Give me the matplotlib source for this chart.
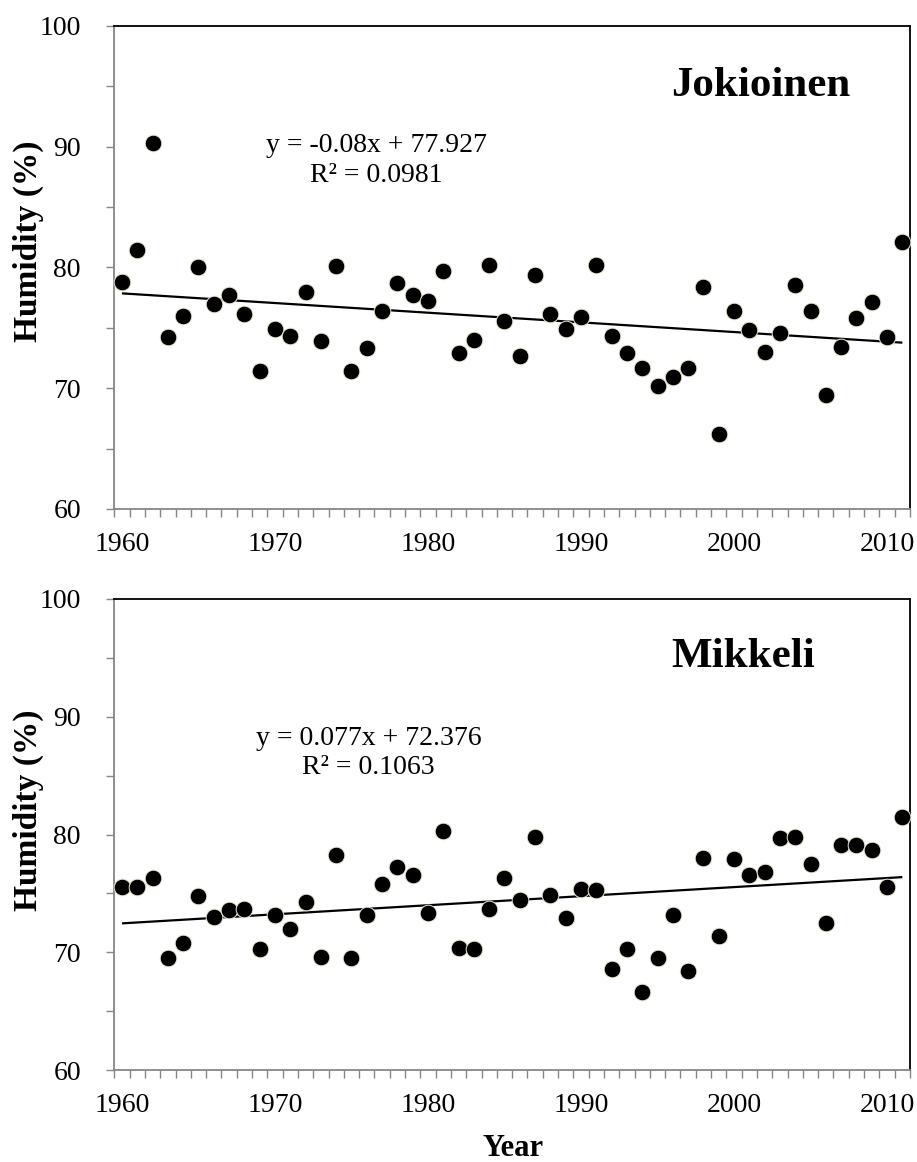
import numpy as np
import matplotlib
matplotlib.use('Agg')
import matplotlib.pyplot as plt
from matplotlib.ticker import MultipleLocator, FixedLocator

# Annual mean relative humidity, 1960-2011
YEARS = list(range(1960, 2012))

JOKIOINEN = [78.8, 81.4, 90.3, 74.2, 76.0, 80.0, 77.0, 77.7, 76.1, 71.4,
             74.9, 74.3, 78.0, 73.9, 80.1, 71.4, 73.3, 76.4, 78.7, 77.7,
             77.2, 79.7, 72.9, 74.0, 80.2, 75.6, 72.7, 79.4, 76.1, 74.9,
             75.9, 80.2, 74.3, 72.9, 71.7, 70.2, 70.9, 71.7, 78.4, 66.2,
             76.4, 74.8, 73.0, 74.6, 78.5, 76.4, 69.4, 73.4, 75.8, 77.1,
             74.2, 82.1]

MIKKELI = [75.5, 75.5, 76.3, 69.5, 70.8, 74.8, 73.0, 73.6, 73.7, 70.3,
           73.2, 72.0, 74.3, 69.6, 78.3, 69.5, 73.2, 75.8, 77.2, 76.6,
           73.3, 80.3, 70.4, 70.3, 73.7, 76.3, 74.4, 79.8, 74.9, 72.9,
           75.4, 75.3, 68.6, 70.3, 66.6, 69.5, 73.2, 68.4, 78.0, 71.4,
           77.9, 76.6, 76.8, 79.7, 79.8, 77.5, 72.5, 79.1, 79.1, 78.7,
           75.5, 81.5]

# Excel linear trendlines (x = 1, 2, ... n)
JOK_SLOPE, JOK_INTERCEPT = -0.08, 77.927
MIK_SLOPE, MIK_INTERCEPT = 0.077, 72.376

JOK_EQ = ['y = -0.08x + 77.927', 'R² = 0.0981']
MIK_EQ = ['y = 0.077x + 72.376', 'R² = 0.1063']

plt.rcParams.update({
    'font.family': ['Liberation Serif', 'DejaVu Serif'],
    'font.size': 20,
})

W, H = 917, 1162
fig = plt.figure(figsize=(W / 100, H / 100), dpi=100)

GRAY = '#868686'


def px_axes(left, top, right, bottom):
    return fig.add_axes([left / W, 1 - bottom / H, (right - left) / W, (bottom - top) / H])


def draw_panel(ax, values, slope, intercept, eq_lines, eq_pos, name, name_pos):
    years = np.array(YEARS)
    vals = np.array(values)
    n = np.arange(1, len(years) + 1)
    trend = slope * n + intercept

    ax.plot(years, trend, color='black', linewidth=1.6, zorder=2,
            solid_capstyle='butt')
    ax.plot(years, vals, linestyle='none', marker='o', markersize=12,
            markerfacecolor='black', markeredgecolor='#eee8d5',
            markeredgewidth=0.7, zorder=3, clip_on=False)

    ax.set_xlim(1959.5, 2011.5)
    ax.set_ylim(60, 100)

    ax.xaxis.set_major_locator(FixedLocator([1960, 1970, 1980, 1990, 2000, 2010]))
    ax.xaxis.set_minor_locator(FixedLocator(np.arange(1959.5, 2012, 1.0)))
    ax.yaxis.set_major_locator(MultipleLocator(10))
    ax.yaxis.set_minor_locator(MultipleLocator(5))

    ax.tick_params(axis='x', which='major', length=0, pad=16.5, labelsize=20)
    ax.tick_params(axis='x', which='minor', length=5.5, width=1.0,
                   color=GRAY, direction='out')
    ax.tick_params(axis='y', which='both', length=5.5, width=1.0,
                   color=GRAY, direction='out')
    ax.tick_params(axis='y', which='major', pad=18.5, labelsize=20)

    for side in ['left', 'bottom']:
        ax.spines[side].set_color(GRAY)
        ax.spines[side].set_linewidth(1.3)
    for side in ['top', 'right']:
        ax.spines[side].set_color('black')
        ax.spines[side].set_linewidth(1.3)

    ax.text(eq_pos[0], eq_pos[1], eq_lines[0], transform=ax.transAxes,
            ha='center', va='baseline', fontsize=20)
    ax.text(eq_pos[0], eq_pos[2], eq_lines[1], transform=ax.transAxes,
            ha='center', va='baseline', fontsize=20)
    ax.text(name_pos[0], name_pos[1], name, transform=ax.transAxes,
            ha='center', va='baseline', fontsize=31, fontweight='bold')


ax1 = px_axes(114.3, 25.7, 910, 509)
draw_panel(ax1, JOKIOINEN, JOK_SLOPE, JOK_INTERCEPT, JOK_EQ,
           (0.329, 0.739, 0.677), 'Jokioinen', (0.812, 0.855))

ax2 = px_axes(114.3, 599, 910, 1070)
draw_panel(ax2, MIKKELI, MIK_SLOPE, MIK_INTERCEPT, MIK_EQ,
           (0.3195, 0.690, 0.628), 'Mikkeli', (0.790, 0.855))

fig.text(28 / W, 1 - 241.7 / H, 'Humidity (%)', rotation=90, ha='center',
         va='center', fontsize=24, fontweight='bold')
fig.text(28 / W, 1 - 810 / H, 'Humidity (%)', rotation=90, ha='center',
         va='center', fontsize=24, fontweight='bold')
fig.text(513 / W, 1 - 1156 / H, 'Year', ha='center', va='baseline',
         fontsize=22, fontweight='bold')

fig.savefig('out.png', dpi=100, facecolor='white')
